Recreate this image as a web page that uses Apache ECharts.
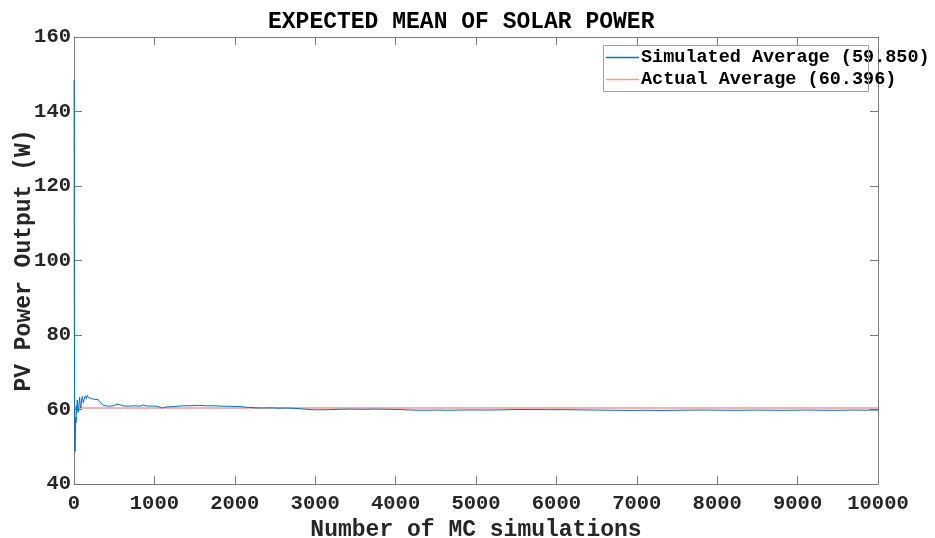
<!DOCTYPE html>
<html>
<head>
<meta charset="utf-8">
<script src="https://cdn.jsdelivr.net/npm/echarts@6/dist/echarts.min.js"></script>
<style>
  html, body { margin: 0; padding: 0; background: #fff; }
  #chart { width: 935px; height: 538px; }
</style>
</head>
<body>
<div id="chart"></div>
<script>
// Running mean of PV output versus number of Monte Carlo runs
const simRuns = [
  1, 3, 6, 10, 14, 18, 22, 26, 30, 35, 40, 48, 55, 62, 70, 78, 85, 95, 105, 115,
  125, 140, 155, 165, 180, 200, 220, 240, 260, 280, 300, 320, 340, 360, 380, 420,
  460, 500, 540, 580, 620, 680, 750, 820, 860, 900, 960, 1000, 1060, 1100, 1150,
  1250, 1350, 1450, 1550, 1650, 1750, 1850, 1950, 2050, 2150, 2250, 2350, 2450,
  2550, 2650, 2750, 2850, 2950, 3050, 3150, 3300, 3450, 3600, 3750, 3900, 4050,
  4200, 4350, 4500, 4650, 4800, 4950, 5100, 5300, 5500, 5700, 5900, 6100, 6300,
  6500, 6700, 6900, 7100, 7300, 7500, 7700, 7900, 8100, 8300, 8500, 8700, 8900,
  9100, 9300, 9500, 9700, 9850, 10000
];
const simMean = [
  148.5, 95, 70, 52, 48.7, 55, 58, 56.5, 61, 59, 62.5, 60.5, 59.3, 61.5, 63.3, 61, 60.4, 62.8, 63.5, 61.8,
  62.5, 63.6, 62.9, 63.8, 63.2, 63.5, 62.9, 63.2, 62.7, 62.4, 62.7, 62.0, 61.5, 61.2, 61.0, 60.9,
  60.9, 61.1, 61.4, 61.2, 60.95, 60.9, 61.0, 60.9, 61.2, 60.95, 60.9, 60.95, 60.7, 60.4, 60.7,
  60.8, 61.0, 61.0, 61.1, 61.0, 61.0, 60.9, 60.85, 60.8, 60.6, 60.45, 60.4, 60.45,
  60.35, 60.4, 60.3, 60.15, 59.95, 59.9, 59.95, 60.05, 60.1, 60.05, 60.1, 60.05, 60.0,
  59.85, 59.8, 59.85, 59.8, 59.85, 59.9, 59.85, 59.9, 60.0, 60.0, 59.95, 59.95, 59.9,
  59.85, 59.8, 59.75, 59.8, 59.75, 59.8, 59.85, 59.85, 59.8, 59.8, 59.85, 59.8, 59.8,
  59.85, 59.8, 59.8, 59.85, 59.83, 59.85
];
const simAverage = 59.850;
const actualAverage = 60.396;
const xRange = [0, 10000];
const yRange = [40, 160];

const titleText = 'EXPECTED MEAN OF SOLAR POWER';
const xName = 'Number of MC simulations';
const yName = 'PV Power Output (W)';
const simLabel = 'Simulated Average (' + simAverage.toFixed(3) + ')';
const actLabel = 'Actual Average (' + actualAverage.toFixed(3) + ')';

const FONT = '"Liberation Mono", "Courier New", monospace';
const AXIS_COLOR = '#7a7a7a';
const TEXT_COLOR = '#262626';

const simData = simRuns.map((n, i) => [n, simMean[i]]);
const actData = xRange.map(n => [n, actualAverage]);

const chart = echarts.init(document.getElementById('chart'), null, { renderer: 'canvas' });

const frameAxis = (pos, isX) => ({
  type: 'value',
  position: pos,
  min: isX ? xRange[0] : yRange[0],
  max: isX ? xRange[1] : yRange[1],
  interval: isX ? 1000 : 20,
  axisLine: { show: true, onZero: false, lineStyle: { color: AXIS_COLOR, width: 1 } },
  axisTick: { show: true, inside: true, length: 8, lineStyle: { color: AXIS_COLOR } },
  axisLabel: { show: false },
  splitLine: { show: false }
});

chart.setOption({
  animation: false,
  backgroundColor: '#fff',
  title: {
    text: titleText,
    left: 263,
    top: 6,
    textStyle: { fontFamily: FONT, fontWeight: 'bold', fontSize: 23, color: '#000' }
  },
  grid: { left: 74, right: 57, top: 37, bottom: 54, containLabel: false, outerBoundsMode: 'none' },
  legend: {
    left: 606,
    top: 47,
    orient: 'vertical',
    padding: 0,
    itemGap: 1,
    itemWidth: 33,
    itemHeight: 1.5,
    icon: 'rect',
    textStyle: { fontFamily: FONT, fontWeight: 'bold', fontSize: 18.5, color: '#000', lineHeight: 21, padding: [0, 0, 0, -3] },
    data: [simLabel, actLabel]
  },
  graphic: [{
    type: 'rect',
    left: 603,
    top: 45,
    shape: { width: 265, height: 46 },
    style: { fill: 'rgba(255,255,255,0)', stroke: '#a0a0a0', lineWidth: 1 },
    z: 10
  }],
  xAxis: [
    Object.assign(frameAxis('bottom', true), {
      name: xName,
      nameLocation: 'middle',
      nameGap: 35,
      nameMoveOverlap: false,
      nameTextStyle: { fontFamily: FONT, fontWeight: 'bold', fontSize: 23, color: TEXT_COLOR },
      axisLabel: {
        show: true, margin: 9, fontFamily: FONT, fontWeight: 'bold', fontSize: 20.5, color: TEXT_COLOR,
        formatter: v => String(v)
      }
    }),
    frameAxis('top', true)
  ],
  yAxis: [
    Object.assign(frameAxis('left', false), {
      name: yName,
      nameLocation: 'middle',
      nameGap: 38,
      nameMoveOverlap: false,
      nameTextStyle: { fontFamily: FONT, fontWeight: 'bold', fontSize: 23, color: TEXT_COLOR },
      axisLabel: {
        show: true, margin: 3, fontFamily: FONT, fontWeight: 'bold', fontSize: 20.5, color: TEXT_COLOR,
        formatter: v => String(v)
      }
    }),
    frameAxis('right', false)
  ],
  series: [
    {
      name: simLabel,
      type: 'line',
      data: simData,
      showSymbol: false,
      symbol: 'none',
      color: '#0072BD',
      lineStyle: { color: '#0072BD', width: 1 },
      z: 3
    },
    {
      name: actLabel,
      type: 'line',
      data: actData,
      showSymbol: false,
      symbol: 'none',
      color: '#F29A9A',
      lineStyle: { color: '#F29A9A', width: 1.6 },
      z: 2
    }
  ]
});
</script>
</body>
</html>
